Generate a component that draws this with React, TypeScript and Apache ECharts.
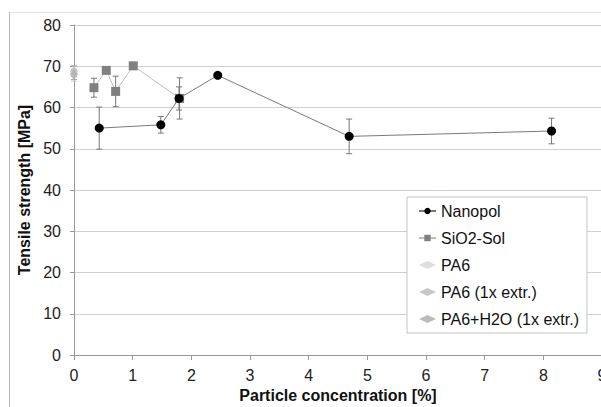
import React, { useEffect, useRef } from "react";
import * as echarts from "echarts";

const xTicks = [0, 1, 2, 3, 4, 5, 6, 7, 8, 9];
const nanopolX = [0.43, 1.48, 1.79, 2.45, 4.69, 8.14];
const nanopolY = [55.0, 55.8, 62.2, 67.8, 53.0, 54.3];
const nanopolErr = [5.1, 2.0, 2.8, 0, 4.2, 3.1];
const sioX = [0.34, 0.55, 0.71, 1.01, 1.8];
const sioY = [64.8, 69.0, 63.9, 70.1, 62.2];
const sioErr = [2.3, 0, 3.7, 0, 5.0];
const pa6 = [[0, 68.3]];
const pa6Err = [1.9];
const pa6x1 = [[0, 68.8]];
const pa6x1Err = [1.3];
const pa6h2o = [[0, 68.0]];
const pa6h2oErr = [1.2];

const FONT = "Liberation Sans, Arial, sans-serif";

function errData(xs: number[], ys: number[], es: number[]) {
  return xs.map((x, i) => [x, ys[i] - es[i], ys[i] + es[i]]).filter((d, i) => es[i] > 0);
}

function errSeries(data: number[][], color: string) {
  return {
    type: "custom",
    silent: true,
    z: 1,
    data,
    encode: { x: 0, y: [1, 2] },
    renderItem: (params: any, api: any) => {
      const x = api.value(0);
      const lo = api.coord([x, api.value(1)]);
      const hi = api.coord([x, api.value(2)]);
      const w = 3;
      const st = { stroke: color, lineWidth: 1 };
      return {
        type: "group",
        children: [
          { type: "line", shape: { x1: hi[0], y1: hi[1], x2: lo[0], y2: lo[1] }, style: st },
          { type: "line", shape: { x1: hi[0] - w, y1: hi[1], x2: hi[0] + w, y2: hi[1] }, style: st },
          { type: "line", shape: { x1: lo[0] - w, y1: lo[1], x2: lo[0] + w, y2: lo[1] }, style: st },
        ],
      };
    },
  };
}

export default function App() {
  const ref = useRef<HTMLDivElement>(null);
  useEffect(() => {
    const chart = echarts.init(ref.current!, undefined, { renderer: "svg" });
    chart.setOption({
      animation: false,
      backgroundColor: "#ffffff",
      textStyle: { fontFamily: FONT },
      grid: { left: 74, top: 25, width: 528, height: 330, containLabel: false, outerBoundsMode: "none" },
      xAxis: {
        type: "value",
        min: 0,
        max: 9,
        interval: 1,
        name: "Particle concentration [%]",
        nameLocation: "middle",
        nameGap: 32,
        nameTextStyle: { fontFamily: FONT, fontSize: 16, fontWeight: "bold", color: "#111" },
        axisLine: { show: true, onZero: false, lineStyle: { color: "#9a9a9a", width: 1 } },
        axisTick: { show: true, length: 5, lineStyle: { color: "#9a9a9a" } },
        axisLabel: { fontFamily: FONT, fontSize: 16, color: "#222", margin: 12, formatter: (v: number) => String(xTicks[Math.round(v)] ?? v) },
        splitLine: { show: false },
      },
      yAxis: {
        type: "value",
        min: 0,
        max: 80,
        interval: 10,
        name: "Tensile strength [MPa]",
        nameLocation: "middle",
        nameGap: 42,
        nameTextStyle: { fontFamily: FONT, fontSize: 16, fontWeight: "bold", color: "#111" },
        axisLine: { show: true, lineStyle: { color: "#9a9a9a", width: 1 } },
        axisTick: { show: true, length: 4, lineStyle: { color: "#9a9a9a" } },
        axisLabel: { fontFamily: FONT, fontSize: 16, color: "#222", margin: 13 },
        splitLine: { show: true, lineStyle: { color: "#d0d0d0", width: 1 } },
      },
      legend: {
        orient: "vertical",
        left: 407,
        top: 197,
        backgroundColor: "#ffffff",
        borderColor: "#c4c4c4",
        borderWidth: 1,
        borderRadius: 0,
        padding: [6, 8, 6, 11],
        itemGap: 11,
        itemWidth: 17,
        itemHeight: 8,
        textStyle: { fontFamily: FONT, fontSize: 16, color: "#111", lineHeight: 16 },
        data: [
          { name: "Nanopol" },
          { name: "SiO2-Sol" },
          { name: "PA6", icon: "diamond", itemStyle: { color: "#d6d6d6" } },
          { name: "PA6 (1x extr.)", icon: "diamond", itemStyle: { color: "#c2c2c2" } },
          { name: "PA6+H2O (1x extr.)", icon: "diamond", itemStyle: { color: "#aaaaaa" } },
        ],
      },
      graphic: [
        { type: "line", shape: { x1: 9, y1: 12.5, x2: 601, y2: 12.5 }, style: { stroke: "#e2e2e2", lineWidth: 1 }, silent: true },
        { type: "line", shape: { x1: 9.5, y1: 12, x2: 9.5, y2: 407 }, style: { stroke: "#b4b4b4", lineWidth: 1 }, silent: true },
      ],
      series: [
        errSeries(errData(nanopolX, nanopolY, nanopolErr), "#777777"),
        errSeries(errData(sioX, sioY, sioErr), "#777777"),
        errSeries(errData([0], [pa6[0][1]], pa6Err), "#c8c8c8"),
        errSeries(errData([0], [pa6x1[0][1]], pa6x1Err), "#b4b4b4"),
        errSeries(errData([0], [pa6h2o[0][1]], pa6h2oErr), "#a8a8a8"),
        {
          name: "SiO2-Sol",
          type: "line",
          z: 3,
          data: sioX.map((x, i) => [x, sioY[i]]),
          symbol: "rect",
          symbolSize: 9,
          lineStyle: { color: "#bdbdbd", width: 1 },
          itemStyle: { color: "#808080" },
        },
        {
          name: "Nanopol",
          type: "line",
          z: 4,
          data: nanopolX.map((x, i) => [x, nanopolY[i]]),
          symbol: "circle",
          symbolSize: 9,
          lineStyle: { color: "#7a7a7a", width: 1 },
          itemStyle: { color: "#000000" },
        },
        {
          name: "PA6",
          type: "scatter",
          z: 5,
          clip: false,
          data: pa6,
          symbol: "diamond",
          symbolSize: [8, 11],
          itemStyle: { color: "#d6d6d6" },
        },
        {
          name: "PA6 (1x extr.)",
          type: "scatter",
          z: 5,
          clip: false,
          data: pa6x1,
          symbol: "diamond",
          symbolSize: [8, 11],
          itemStyle: { color: "#c2c2c2", opacity: 0.9 },
        },
        {
          name: "PA6+H2O (1x extr.)",
          type: "scatter",
          z: 5,
          clip: false,
          data: pa6h2o,
          symbol: "diamond",
          symbolSize: [8, 11],
          itemStyle: { color: "#b0b0b0", opacity: 0.8 },
        },
      ],
    });
    return () => chart.dispose();
  }, []);
  return <div ref={ref} style={{ position: "fixed", left: 0, top: 0, width: 601, height: 407 }} />;
}
